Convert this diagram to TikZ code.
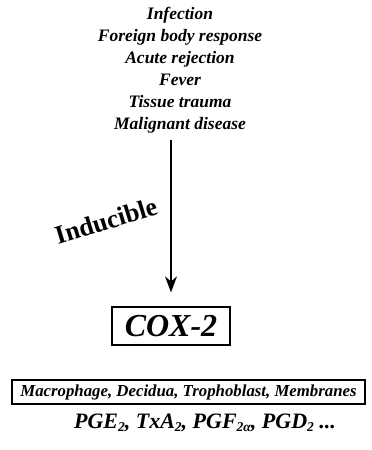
\documentclass[tikz,border=0pt]{standalone}
\usepackage{fontspec}
\setmainfont{Liberation Serif}
\usetikzlibrary{arrows.meta,positioning}
\newcommand{\lowsub}[1]{\raisebox{-0.35ex}{\fontsize{13.5}{13.5}\selectfont #1}}

\begin{document}
\begin{tikzpicture}[x=1pt,y=-1pt,>={Stealth[length=16pt,width=12pt]},
  cause/.style={font=\fontsize{17.5}{22}\selectfont\bfseries\itshape,align=center,inner sep=0pt},
  boxed/.style={draw,line width=1.3pt,inner sep=0pt,font=\bfseries\itshape}]
\useasboundingbox (0,0) rectangle (372,450);
\node[cause] (causes) at (180,70) {Infection\\Foreign body response\\Acute rejection\\Fever\\Tissue trauma\\Malignant disease};
\node[boxed,minimum width=118pt,minimum height=38pt,font=\fontsize{32}{32}\selectfont\bfseries\itshape] (cox) at (171,326) {COX-2};
\node[rotate=17,font=\fontsize{26}{26}\selectfont\bfseries] (induc) at (106,221) {Inducible};
\node[boxed,line width=1.1pt,minimum width=353pt,minimum height=24pt,font=\fontsize{16.8}{16.8}\selectfont\bfseries\itshape] (cells) at (188.5,392) {Macrophage, Decidua, Trophoblast, Membranes};
\node[font=\fontsize{22}{22}\selectfont\bfseries\itshape] (prods) at (205,423) {PGE\lowsub{2}, TxA\lowsub{2}, PGF\lowsub{2α}, PGD\lowsub{2} ...};
\draw[->,line width=1.4pt,shorten >=14pt] ([yshift=-7pt]causes.south -| cox.north) -- (cox.north);
\end{tikzpicture}
\end{document}
